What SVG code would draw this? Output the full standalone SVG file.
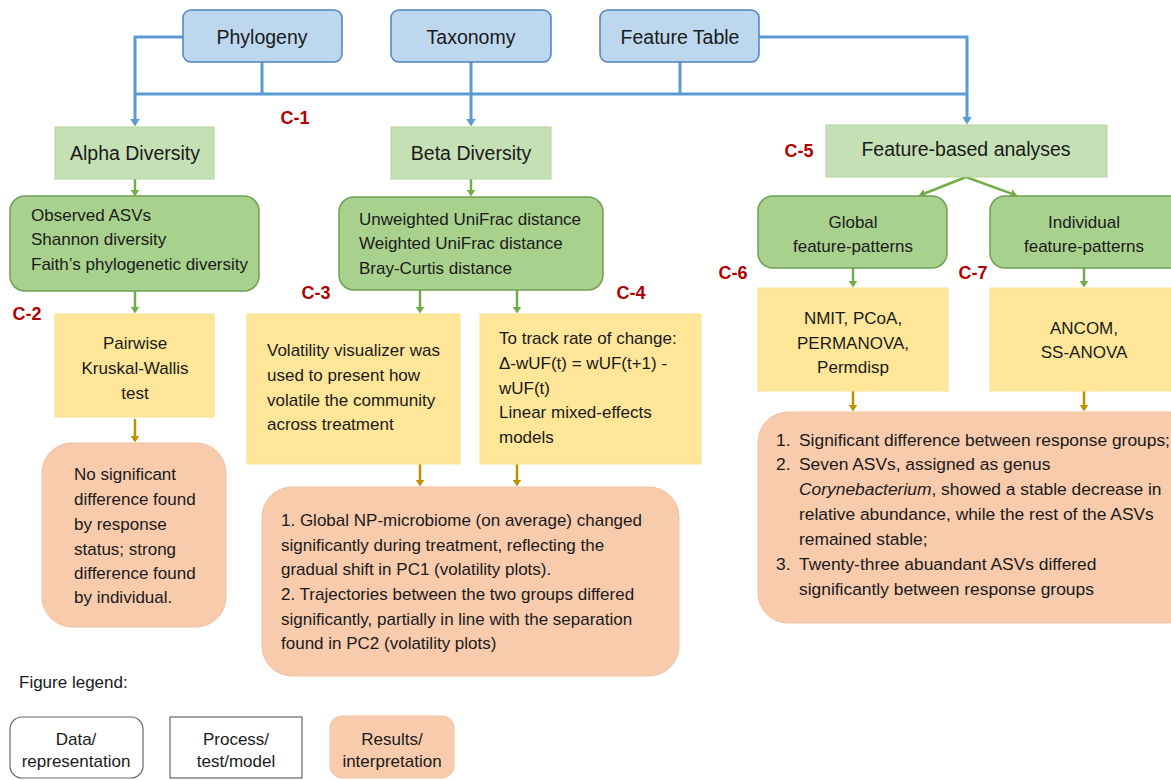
<svg xmlns="http://www.w3.org/2000/svg" width="1171" height="780" viewBox="0 0 1171 780">
<style>
text{font-family:"Liberation Sans",Arial,sans-serif;fill:#1a1a1a}
.t{font-size:19.5px;text-anchor:middle}
.b{font-size:17px}
.r{font-size:17.4px}
.c{text-anchor:middle}
.lbl{font-size:18px;font-weight:bold;fill:#b00000;text-anchor:middle}
.blue{fill:#bdd7ee;stroke:#4f82bd;stroke-width:1.5}
.lg{fill:#c5e0b4;stroke:#b3d49c;stroke-width:1}
.dg{fill:#a9d18e;stroke:#6f9f52;stroke-width:1.5}
.yl{fill:#ffe699;stroke:#fbe08f;stroke-width:1}
.sa{fill:#f8cbad;stroke:#f3c1a0;stroke-width:1}
.cb{fill:none;stroke:#5b9bd5;stroke-width:3}
.cg{fill:none;stroke:#70ad47;stroke-width:2.5}
.cy{fill:none;stroke:#bf9000;stroke-width:2.5}
.leg{fill:#fff;stroke:#666;stroke-width:1.2}
</style>
<defs>
<marker id="ab" viewBox="0 0 8 10" markerWidth="8" markerHeight="10" refX="0.5" refY="5" orient="auto" markerUnits="userSpaceOnUse"><path d="M0,0 L8,5 L0,10 z" fill="#5b9bd5"/></marker>
<marker id="ag" viewBox="0 0 7 9" markerWidth="7" markerHeight="9" refX="0.5" refY="4.5" orient="auto" markerUnits="userSpaceOnUse"><path d="M0,0 L7,4.5 L0,9 z" fill="#70ad47"/></marker>
<marker id="ay" viewBox="0 0 7 9" markerWidth="7" markerHeight="9" refX="0.5" refY="4.5" orient="auto" markerUnits="userSpaceOnUse"><path d="M0,0 L7,4.5 L0,9 z" fill="#bf9000"/></marker>
</defs>
<rect width="1171" height="780" fill="#fff"/>

<g id="connectors">
<path class="cb" d="M183,37 H135 V119" marker-end="url(#ab)"/>
<path class="cb" d="M262,62 V94"/>
<path class="cb" d="M135,94 H967"/>
<path class="cb" d="M471,62 V119" marker-end="url(#ab)"/>
<path class="cb" d="M680,62 V94"/>
<path class="cb" d="M759,37 H967 V117" marker-end="url(#ab)"/>
<path class="cg" d="M135,179 V190" marker-end="url(#ag)"/>
<path class="cg" d="M471,179 V190" marker-end="url(#ag)"/>
<path class="cg" d="M966,177 L924.5,193.5" marker-end="url(#ag)"/>
<path class="cg" d="M966,177 L1011.4,193.7" marker-end="url(#ag)"/>
<path class="cg" d="M135,291 V307" marker-end="url(#ag)"/>
<path class="cg" d="M420,290 V307" marker-end="url(#ag)"/>
<path class="cg" d="M517,290 V307" marker-end="url(#ag)"/>
<path class="cg" d="M853,268 V281" marker-end="url(#ag)"/>
<path class="cg" d="M1084,268 V281" marker-end="url(#ag)"/>
<path class="cy" d="M135,419 V436" marker-end="url(#ay)"/>
<path class="cy" d="M420,464 V480" marker-end="url(#ay)"/>
<path class="cy" d="M517,464 V480" marker-end="url(#ay)"/>
<path class="cy" d="M853,391 V405" marker-end="url(#ay)"/>
<path class="cy" d="M1084,391 V405" marker-end="url(#ay)"/>
</g>

<g id="phylogeny"><rect class="blue" x="183" y="10" width="159" height="52" rx="8"/><text class="t" x="262" y="44">Phylogeny</text></g>
<g id="taxonomy"><rect class="blue" x="391" y="10" width="160" height="52" rx="8"/><text class="t" x="471" y="44">Taxonomy</text></g>
<g id="feature-table"><rect class="blue" x="600" y="10" width="159" height="52" rx="8"/><text class="t" x="680" y="44">Feature Table</text></g>

<g id="alpha-diversity"><rect class="lg" x="55" y="127" width="159" height="52"/><text class="t" x="135" y="160">Alpha Diversity</text></g>
<g id="beta-diversity"><rect class="lg" x="391" y="127" width="160" height="52"/><text class="t" x="471" y="160">Beta Diversity</text></g>
<g id="feature-based"><rect class="lg" x="826" y="125" width="281" height="52"/><text class="t" x="966" y="156">Feature-based analyses</text></g>

<g id="alpha-metrics"><rect class="dg" x="10" y="196" width="249" height="95" rx="15"/>
<text class="b" x="31" y="221">Observed ASVs</text>
<text class="b" x="31" y="245">Shannon diversity</text>
<text class="b" x="31" y="270">Faith’s phylogenetic diversity</text></g>
<g id="beta-metrics"><rect class="dg" x="339" y="197" width="264" height="93" rx="15"/>
<text class="b" x="359" y="225">Unweighted UniFrac distance</text>
<text class="b" x="359" y="249">Weighted UniFrac distance</text>
<text class="b" x="359" y="274">Bray-Curtis distance</text></g>
<g id="global-patterns"><rect class="dg" x="758" y="196" width="189" height="72" rx="15"/>
<text class="b c" x="853" y="228">Global</text>
<text class="b c" x="853" y="252">feature-patterns</text></g>
<g id="individual-patterns"><rect class="dg" x="990" y="196" width="200" height="72" rx="15"/>
<text class="b c" x="1084" y="228">Individual</text>
<text class="b c" x="1084" y="252">feature-patterns</text></g>

<g id="pairwise"><rect class="yl" x="55" y="314" width="159" height="103"/>
<text class="b c" x="135" y="349">Pairwise</text>
<text class="b c" x="135" y="374">Kruskal-Wallis</text>
<text class="b c" x="135" y="399">test</text></g>
<g id="volatility"><rect class="yl" x="247" y="314" width="213" height="150"/>
<text class="b" x="267" y="356">Volatility visualizer was</text>
<text class="b" x="267" y="381">used to present how</text>
<text class="b" x="267" y="406">volatile the community</text>
<text class="b" x="267" y="430">across treatment</text></g>
<g id="rate-of-change"><rect class="yl" x="480" y="314" width="221" height="150"/>
<text class="b" x="499" y="344">To track rate of change:</text>
<text class="b" x="499" y="369">Δ-wUF(t) = wUF(t+1) -</text>
<text class="b" x="499" y="394">wUF(t)</text>
<text class="b" x="499" y="418">Linear mixed-effects</text>
<text class="b" x="499" y="443">models</text></g>
<g id="nmit"><rect class="yl" x="758" y="288" width="190" height="103"/>
<text class="b c" x="853" y="324">NMIT, PCoA,</text>
<text class="b c" x="853" y="349">PERMANOVA,</text>
<text class="b c" x="853" y="373">Permdisp</text></g>
<g id="ancom"><rect class="yl" x="990" y="288" width="200" height="103"/>
<text class="b c" x="1084" y="334">ANCOM,</text>
<text class="b c" x="1084" y="358">SS-ANOVA</text></g>

<g id="result-alpha"><rect class="sa" x="42" y="443" width="184" height="184" rx="30"/>
<text class="b" x="74" y="480">No significant</text>
<text class="b" x="74" y="505">difference found</text>
<text class="b" x="74" y="530">by response</text>
<text class="b" x="74" y="555">status; strong</text>
<text class="b" x="74" y="579">difference found</text>
<text class="b" x="74" y="603">by individual.</text></g>
<g id="result-beta"><rect class="sa" x="262" y="487" width="417" height="189" rx="30"/>
<text class="b" x="281" y="526">1. Global NP-microbiome (on average) changed</text>
<text class="b" x="281" y="551">significantly during treatment, reflecting the</text>
<text class="b" x="281" y="575">gradual shift in PC1 (volatility plots).</text>
<text class="b" x="281" y="600">2. Trajectories between the two groups differed</text>
<text class="b" x="281" y="625">significantly, partially in line with the separation</text>
<text class="b" x="281" y="649">found in PC2 (volatility plots)</text></g>
<g id="result-feature"><rect class="sa" x="758" y="412" width="440" height="211" rx="30"/>
<text class="r" x="776" y="446">1.</text><text class="r" x="799" y="446">Significant difference between response groups;</text>
<text class="r" x="776" y="470">2.</text><text class="r" x="799" y="470">Seven ASVs, assigned as genus</text>
<text class="r" x="799" y="495"><tspan font-style="italic">Corynebacterium</tspan>, showed a stable decrease in</text>
<text class="r" x="799" y="520">relative abundance, while the rest of the ASVs</text>
<text class="r" x="799" y="545">remained stable;</text>
<text class="r" x="776" y="570">3.</text><text class="r" x="799" y="570">Twenty-three abuandant ASVs differed</text>
<text class="r" x="799" y="595">significantly between response groups</text></g>

<g id="labels">
<text class="lbl" x="295" y="124">C-1</text>
<text class="lbl" x="27" y="320">C-2</text>
<text class="lbl" x="316" y="299">C-3</text>
<text class="lbl" x="631" y="299">C-4</text>
<text class="lbl" x="799" y="157">C-5</text>
<text class="lbl" x="733" y="279">C-6</text>
<text class="lbl" x="973" y="279">C-7</text>
</g>

<g id="legend">
<text class="b" x="19" y="688">Figure legend:</text>
<g id="legend-data"><rect class="leg" x="10" y="717" width="133" height="61" rx="12"/>
<text class="b c" x="76" y="745">Data/</text><text class="b c" x="76" y="767">representation</text></g>
<g id="legend-process"><rect class="leg" x="170" y="717" width="132" height="61"/>
<text class="b c" x="236" y="745">Process/</text><text class="b c" x="236" y="767">test/model</text></g>
<g id="legend-results"><rect class="sa" x="330" y="716" width="124" height="62" rx="12"/>
<text class="b c" x="392" y="745">Results/</text><text class="b c" x="392" y="767">interpretation</text></g>
</g>
</svg>
